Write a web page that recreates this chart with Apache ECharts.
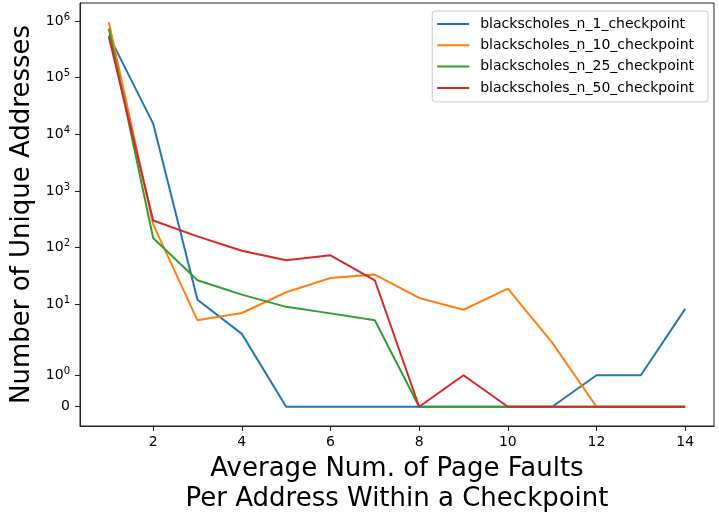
<!DOCTYPE html>
<html>
<head>
<meta charset="utf-8">
<script src="https://cdn.jsdelivr.net/npm/echarts@6/dist/echarts.min.js"></script>
<style>html,body{margin:0;padding:0;background:#fff;}#c{width:719px;height:519px;}</style>
</head>
<body>
<div id="c"></div>
<script>
const xValues = [1, 2, 3, 4, 5, 6, 7, 8, 9, 10, 11, 12, 13, 14];
const seriesNames = ['blackscholes_n_1_checkpoint', 'blackscholes_n_10_checkpoint', 'blackscholes_n_25_checkpoint', 'blackscholes_n_50_checkpoint'];
const n1 = [560000, 15500, 12, 3, 0, 0, 0, 0, 0, 0, 0, 1, 1, 8.3];
const n10 = [960000, 257, 5.2, 7, 16.3, 29, 33.4, 12.9, 8, 18.9, 2.1, 0, 0, 0];
const n25 = [740000, 148, 26.5, 14.8, 9, 6.9, 5.2, 0, 0, 0, 0, 0, 0, 0];
const n50 = [530000, 302, 158, 88, 60, 73, 26.5, 0, 1, 0, 0, 0, 0, 0];
const yTickValues = [0, 1, 10, 100, 1000, 10000, 100000, 1000000];
const xTickValues = [2, 4, 6, 8, 10, 12, 14];
const colors = ['#1f77b4', '#ff7f0e', '#2ca02c', '#d62728'];

// symlog transform (linthresh = 2, linscale = 1, base 10), in decades
const LT = 2, LS = 1 / (1 - 1 / 10);
function symlog(v) {
  const a = Math.abs(v);
  let t = a <= LT ? a * LS : LT * (LS + Math.log10(a / LT));
  return Math.sign(v) * t / LT;
}
const yTickT = yTickValues.map(symlog);
function yLabel(val) {
  let best = 0, bd = Infinity;
  yTickT.forEach((t, i) => { const d = Math.abs(t - val); if (d < bd) { bd = d; best = i; } });
  const v = yTickValues[best];
  if (v === 0) return '0';
  return '10{sup|' + Math.round(Math.log10(v)) + '}';
}

const allSeries = [n1, n10, n25, n50];
const chart = echarts.init(document.getElementById('c'), null, { renderer: 'canvas' });
chart.setOption({
  animation: false,
  color: colors,
  textStyle: { fontFamily: 'DejaVu Sans' },
  grid: { left: 80, right: 5, top: 3, bottom: 93, containLabel: false, outerBoundsMode: 'none',
          show: true, borderColor: '#222', borderWidth: 1, backgroundColor: 'transparent' },
  legend: {
    orient: 'vertical', right: 11, top: 11,
    data: seriesNames,
    icon: 'rect', itemWidth: 32, itemHeight: 2, itemGap: 5.3,
    padding: [5, 14, 6, 5],
    borderColor: '#cccccc', borderWidth: 1, borderRadius: 3,
    backgroundColor: 'rgba(255,255,255,0.8)',
    textStyle: { fontFamily: 'DejaVu Sans', fontSize: 14, color: '#000', lineHeight: 16, padding: [0, 0, 0, 6] }
  },
  xAxis: {
    type: 'value', min: 0.35, max: 14.65,
    name: 'Average Num. of Page Faults\nPer Address Within a Checkpoint',
    nameLocation: 'middle', nameGap: 27,
    nameTextStyle: { fontFamily: 'DejaVu Sans', fontSize: 26, color: '#000', lineHeight: 30 },
    axisLine: { show: true, onZero: false, lineStyle: { color: '#222', width: 1 } },
    axisTick: { show: true, length: 5, customValues: xTickValues, lineStyle: { color: '#222' } },
    axisLabel: { customValues: xTickValues, margin: 9, fontSize: 14, color: '#000', fontFamily: 'DejaVu Sans' },
    splitLine: { show: false }
  },
  yAxis: {
    type: 'value', min: -0.34, max: 7.13,
    name: 'Number of Unique Addresses',
    nameLocation: 'middle', nameGap: 42, nameRotate: 90,
    nameTextStyle: { fontFamily: 'DejaVu Sans', fontSize: 26, color: '#000' },
    axisLine: { show: true, onZero: false, lineStyle: { color: '#222', width: 1 } },
    axisTick: { show: true, length: 5, customValues: yTickT, lineStyle: { color: '#222' } },
    axisLabel: {
      customValues: yTickT, margin: 10, fontSize: 14, color: '#000', fontFamily: 'DejaVu Sans',
      formatter: yLabel,
      rich: { sup: { fontSize: 10, fontFamily: 'DejaVu Sans', color: '#000', verticalAlign: 'top', padding: [0, 0, 8, 0] } }
    },
    splitLine: { show: false }
  },
  series: allSeries.map((arr, i) => ({
    name: seriesNames[i],
    type: 'line',
    symbol: 'none',
    lineStyle: { width: 2, color: colors[i] },
    itemStyle: { color: colors[i] },
    data: arr.map((v, j) => [xValues[j], symlog(v)])
  }))
});
</script>
</body>
</html>
